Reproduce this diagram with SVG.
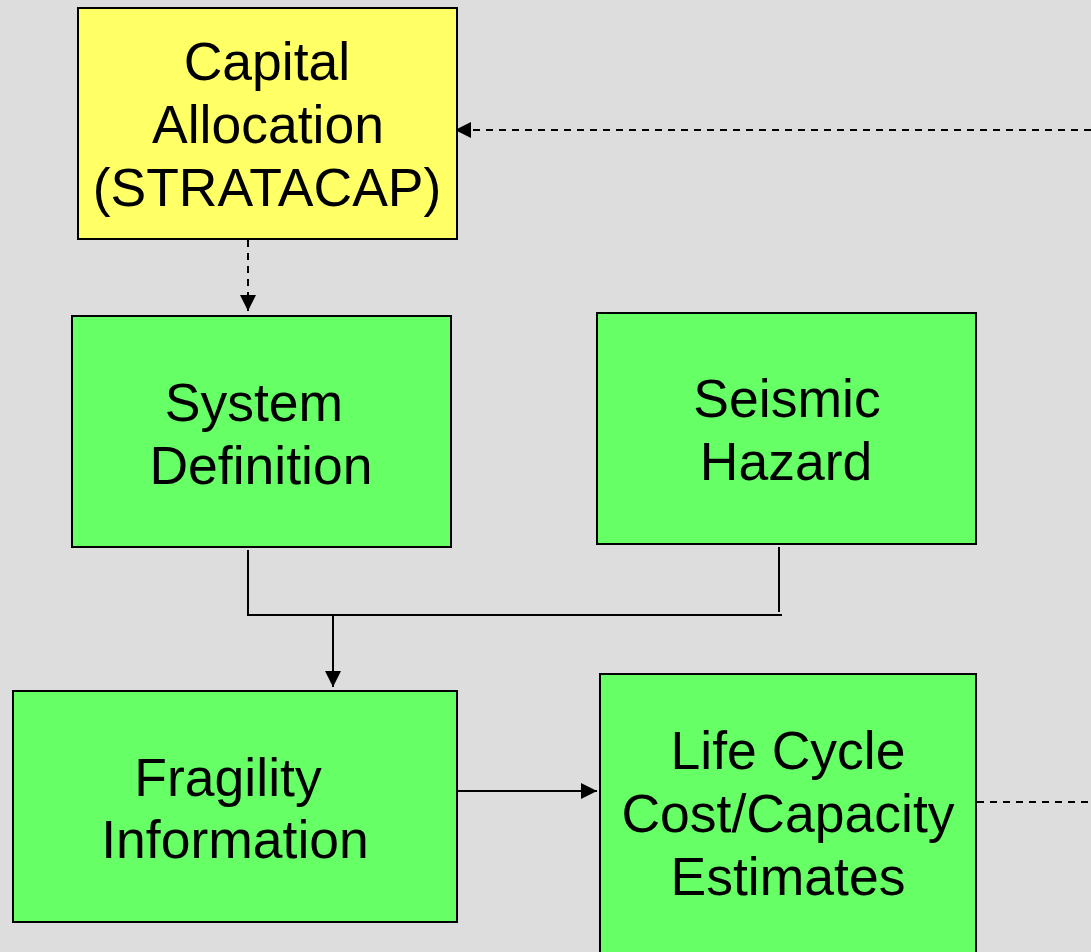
<svg xmlns="http://www.w3.org/2000/svg" width="1091" height="952" viewBox="0 0 1091 952">
<style>
.box{stroke:#000;stroke-width:2}
.g{fill:#66FF66}
.y{fill:#FFFF66}
text{font-family:"Liberation Sans",Arial,sans-serif;font-size:53.5px;fill:#000;text-anchor:middle}
.c{fill:none;stroke:#000;stroke-width:2}
.d{stroke-dasharray:7,6}
</style>
<defs>
<marker id="ahs" viewBox="0 0 10 10" refX="10" refY="5" markerWidth="16" markerHeight="16" markerUnits="userSpaceOnUse" orient="auto">
<path d="M0,0L10,5L0,10z" fill="#000"/>
</marker>
</defs>
<rect width="1091" height="952" fill="#DDDDDD"/>
<g id="connectors">
<path class="c d" d="M248,240V311" marker-end="url(#ahs)"/>
<path class="c d" d="M1091,130H455" marker-end="url(#ahs)"/>
<path class="c" d="M248,550V615H782"/>
<path class="c" d="M779,547V612"/>
<path class="c" d="M333,615V687" marker-end="url(#ahs)"/>
<path class="c" d="M457,791H597" marker-end="url(#ahs)"/>
<path class="c d" d="M977,802H1091"/>
</g>
<g id="capital">
<rect class="box y" x="78" y="8" width="379" height="231"/>
<text x="267" y="80">Capital</text>
<text x="268" y="143">Allocation</text>
<text x="267" y="206">(STRATACAP)</text>
</g>
<g id="system">
<rect class="box g" x="72" y="316" width="379" height="231"/>
<text x="254" y="421">System</text>
<text x="261" y="484">Definition</text>
</g>
<g id="seismic">
<rect class="box g" x="597" y="313" width="379" height="231"/>
<text x="787" y="417">Seismic</text>
<text x="786" y="480">Hazard</text>
</g>
<g id="fragility">
<rect class="box g" x="13" y="691" width="444" height="231"/>
<text x="228" y="796">Fragility</text>
<text x="235" y="858">Information</text>
</g>
<g id="lifecycle">
<rect class="box g" x="600" y="674" width="376" height="290"/>
<text x="788" y="769">Life Cycle</text>
<text x="788" y="832">Cost/Capacity</text>
<text x="788" y="895">Estimates</text>
</g>
</svg>
